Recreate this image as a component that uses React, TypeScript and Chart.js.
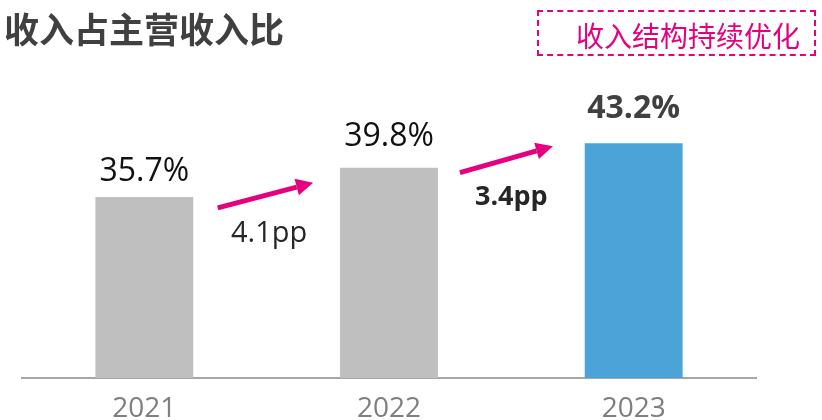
import React, { useEffect, useRef } from "react";
import { Chart, registerables } from "chart.js";

Chart.register(...registerables);

// ---- data ----
const categories = ["2021", "2022", "2023"];
const ratioValues = [35.7, 39.8, 43.2];
const valueLabels = ["35.7%", "39.8%", "43.2%"];
const highlightIndex = 2;
// arrows between bars, in (category index, value) coordinates
const arrowStartX = [0.3, 1.29];
const arrowStartY = [34.2, 39.1];
const arrowEndX = [0.69, 1.67];
const arrowEndY = [37.7, 42.8];
// "pp" difference labels, in (category index, value) coordinates
const deltaLabelX = [0.51, 1.5];
const deltaLabelY = [29.4, 34.6];

const TITLE = "收入占主营收入比";
const BADGE = "收入结构持续优化";

// ---- styles ----
const PINK = "#E4007F";
const GRAY_BAR = "#BFBFBF";
const BLUE_BAR = "#4BA3D8";
const LABEL_GAP = [16, 22, 25];
const FONT = "'Open Sans', sans-serif";

const annotationPlugin = {
  id: "annotations",
  afterDatasetsDraw(chart: any) {
    const ctx = chart.ctx;
    const xs = chart.scales.x;
    const ys = chart.scales.y;
    const meta = chart.getDatasetMeta(0);
    ctx.save();
    // value labels
    meta.data.forEach((bar: any, i: number) => {
      const bold = i === highlightIndex;
      ctx.font = `${bold ? "bold " : ""}32px ${FONT}`;
      ctx.fillStyle = bold ? "#404040" : "#111111";
      ctx.textAlign = "center";
      ctx.textBaseline = "alphabetic";
      ctx.fillText(valueLabels[i], bar.x, bar.y - LABEL_GAP[i]);
    });
    // arrows
    for (let i = 0; i < arrowStartX.length; i++) {
      const x1 = xs.getPixelForValue(arrowStartX[i]);
      const y1 = ys.getPixelForValue(arrowStartY[i]);
      const x2 = xs.getPixelForValue(arrowEndX[i]);
      const y2 = ys.getPixelForValue(arrowEndY[i]);
      const ang = Math.atan2(y2 - y1, x2 - x1);
      const headLen = 17;
      const headHalf = 8.5;
      const bx = x2 - headLen * Math.cos(ang);
      const by = y2 - headLen * Math.sin(ang);
      ctx.strokeStyle = PINK;
      ctx.fillStyle = PINK;
      ctx.lineWidth = 5;
      ctx.lineCap = "butt";
      ctx.beginPath();
      ctx.moveTo(x1, y1);
      ctx.lineTo(bx, by);
      ctx.stroke();
      ctx.beginPath();
      ctx.moveTo(x2, y2);
      ctx.lineTo(bx + headHalf * Math.sin(ang), by - headHalf * Math.cos(ang));
      ctx.lineTo(bx - headHalf * Math.sin(ang), by + headHalf * Math.cos(ang));
      ctx.closePath();
      ctx.fill();
    }
    // delta labels
    for (let i = 0; i < deltaLabelX.length; i++) {
      const diff = (ratioValues[i + 1] - ratioValues[i]).toFixed(1) + "pp";
      const bold = i === deltaLabelX.length - 1;
      ctx.font = bold ? `bold 27px ${FONT}` : `29px ${FONT}`;
      ctx.fillStyle = "#262626";
      ctx.textAlign = "center";
      ctx.textBaseline = "alphabetic";
      ctx.fillText(diff, xs.getPixelForValue(deltaLabelX[i]), ys.getPixelForValue(deltaLabelY[i]));
    }
    ctx.restore();
  },
};

export default function App() {
  const ref = useRef<HTMLCanvasElement | null>(null);
  useEffect(() => {
    if (!ref.current) return;
    const chart = new Chart(ref.current, {
      type: "bar",
      data: {
        labels: categories,
        datasets: [
          {
            data: ratioValues,
            backgroundColor: ratioValues.map((_, i) => (i === highlightIndex ? BLUE_BAR : GRAY_BAR)),
            categoryPercentage: 1,
            barPercentage: 0.4,
            borderWidth: 0,
          },
        ],
      },
      options: {
        animation: false,
        responsive: false,
        devicePixelRatio: 1,
        layout: { padding: { left: 22, right: 66, top: 55, bottom: 0 } },
        plugins: { legend: { display: false }, tooltip: { enabled: false }, title: { display: false } },
        scales: {
          x: {
            grid: { display: false, drawTicks: false },
            border: { display: true, color: "#A6A6A6", width: 2 },
            ticks: {
              color: "#7F7F7F",
              font: { family: FONT, size: 28, lineHeight: 1 },
              padding: 17,
            },
          },
          y: {
            display: false,
            min: 10.5,
            max: 55.5,
          },
        },
      },
      plugins: [annotationPlugin],
    });
    return () => chart.destroy();
  }, []);

  return (
    <div style={{ position: "absolute", left: 0, top: 0, width: 822, height: 420, background: "#fff", overflow: "hidden" }}>
      <canvas ref={ref} width={822} height={440} style={{ position: "absolute", left: 0, top: 0 }} />
      <div
        style={{
          position: "absolute",
          left: 4,
          top: 8,
          fontFamily: "'Noto Sans CJK SC', sans-serif",
          fontWeight: "bold",
          fontSize: 35,
          lineHeight: "40px",
          color: "#404040",
          whiteSpace: "nowrap",
        }}
      >
        {TITLE}
      </div>
      <div
        style={{
          position: "absolute",
          left: 537,
          top: 10,
          width: 279,
          height: 46,
          boxSizing: "border-box",
          border: `2px dashed ${PINK}`,
        }}
      />
      <div
        style={{
          position: "absolute",
          left: 576,
          top: 17,
          fontFamily: "'Noto Sans CJK SC', sans-serif",
          fontSize: 28,
          lineHeight: "36px",
          color: PINK,
          whiteSpace: "nowrap",
        }}
      >
        {BADGE}
      </div>
    </div>
  );
}
